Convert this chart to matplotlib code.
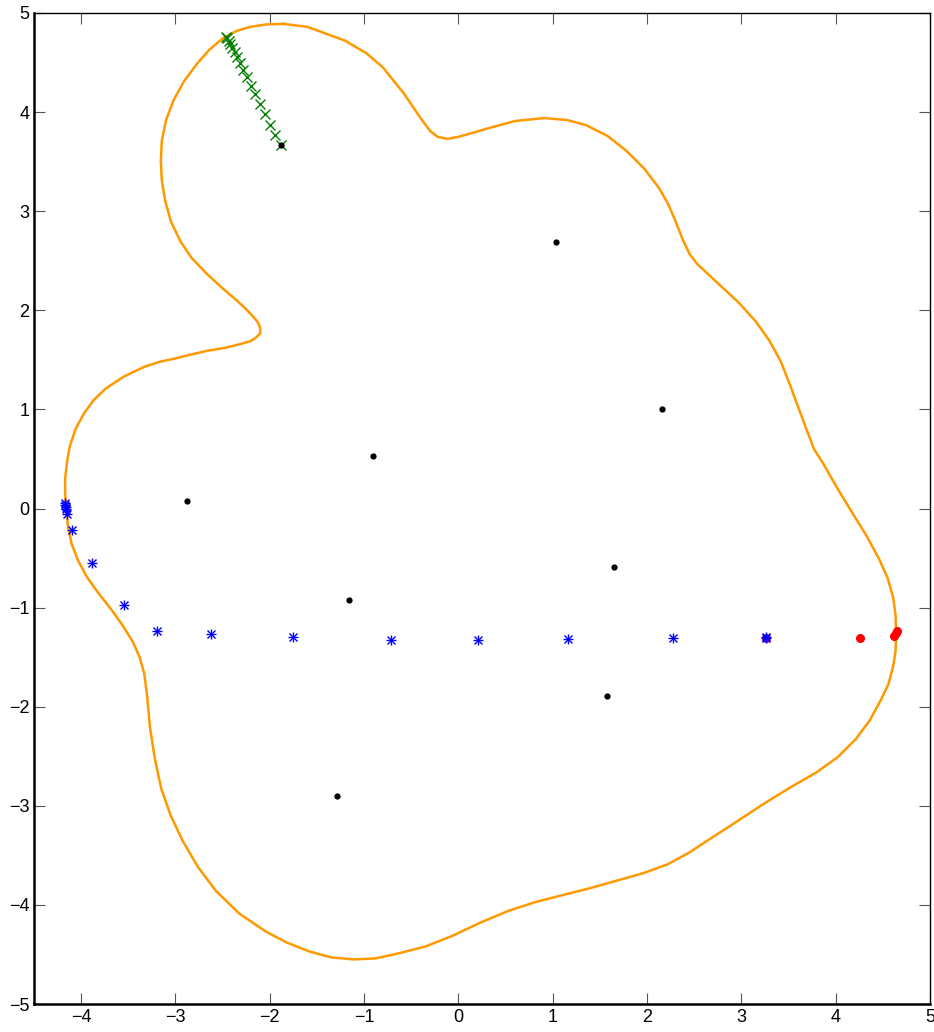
import numpy as np
import matplotlib
matplotlib.use('Agg')
import matplotlib.pyplot as plt

plt.rcParams['font.family'] = ['Liberation Sans', 'DejaVu Sans']

# boundary curve (clockwise from the top of the upper lobe)
curve_x = [-1.855, -1.60, -1.20, -0.97, -0.80, -0.69, -0.58, -0.48, -0.38, -0.30,
           -0.22, -0.12, 0.00, 0.15, 0.29, 0.60, 0.91, 1.15, 1.35, 1.58,
           1.78, 1.97, 2.13, 2.23, 2.31, 2.38, 2.45, 2.53, 2.63, 2.80,
           2.98, 3.15, 3.30, 3.42, 3.51, 3.60, 3.69, 3.77, 3.87, 4.02,
           4.18, 4.33, 4.46, 4.55, 4.61, 4.635, 4.64, 4.635, 4.61, 4.56,
           4.48, 4.36, 4.21, 4.02, 3.80, 3.51, 3.22, 2.95, 2.69, 2.45,
           2.22, 1.96, 1.70, 1.40, 1.11, 0.82, 0.53, 0.23, -0.06, -0.35,
           -0.64, -0.88, -1.11, -1.35, -1.58, -1.82, -2.04, -2.32, -2.57, -2.76,
           -2.92, -3.05, -3.15, -3.22, -3.27, -3.30, -3.33, -3.38, -3.45, -3.56,
           -3.68, -3.82, -3.94, -4.03, -4.10, -4.14, -4.16, -4.17, -4.17, -4.15,
           -4.12, -4.06, -3.97, -3.87, -3.74, -3.55, -3.33, -3.17, -3.02, -2.85,
           -2.67, -2.48, -2.31, -2.20, -2.14, -2.10, -2.10, -2.12, -2.17, -2.25,
           -2.35, -2.51, -2.67, -2.83, -2.95, -3.05, -3.11, -3.145, -3.155, -3.145,
           -3.10, -3.02, -2.91, -2.77, -2.64, -2.49, -2.35, -2.21, -2.03, -1.855]
curve_y = [4.89, 4.86, 4.72, 4.59, 4.45, 4.32, 4.19, 4.05, 3.91, 3.81,
           3.75, 3.73, 3.75, 3.79, 3.83, 3.91, 3.94, 3.92, 3.87, 3.76,
           3.61, 3.43, 3.23, 3.06, 2.88, 2.71, 2.57, 2.47, 2.38, 2.23,
           2.07, 1.89, 1.69, 1.48, 1.26, 1.03, 0.80, 0.60, 0.45, 0.20,
           -0.05, -0.28, -0.51, -0.70, -0.90, -1.08, -1.28, -1.44, -1.59, -1.77,
           -1.93, -2.14, -2.33, -2.51, -2.66, -2.82, -2.99, -3.16, -3.32, -3.47,
           -3.59, -3.68, -3.75, -3.83, -3.90, -3.97, -4.06, -4.18, -4.31, -4.42,
           -4.49, -4.54, -4.55, -4.53, -4.47, -4.38, -4.27, -4.09, -3.86, -3.62,
           -3.36, -3.10, -2.83, -2.52, -2.21, -1.90, -1.67, -1.50, -1.35, -1.18,
           -1.02, -0.85, -0.69, -0.53, -0.36, -0.18, 0.01, 0.16, 0.30, 0.47,
           0.63, 0.80, 0.96, 1.09, 1.21, 1.33, 1.43, 1.48, 1.51, 1.55,
           1.59, 1.62, 1.66, 1.69, 1.73, 1.77, 1.81, 1.87, 1.93, 2.01,
           2.10, 2.23, 2.37, 2.53, 2.70, 2.90, 3.11, 3.31, 3.51, 3.71,
           3.92, 4.12, 4.31, 4.49, 4.63, 4.75, 4.82, 4.86, 4.885, 4.89]

# black points
pts_x = [-1.88, 1.03, 2.16, -0.905, -2.88, 1.65, -1.16, 1.58, -1.29]
pts_y = [3.665, 2.69, 1.00, 0.53, 0.08, -0.59, -0.92, -1.89, -2.90]

# green path (x markers)
green_x = [-1.884, -1.941, -1.997, -2.050, -2.103, -2.153, -2.199, -2.241, -2.281,
           -2.315, -2.344, -2.372, -2.397, -2.419, -2.435, -2.450, -2.461]
green_y = [3.665, 3.769, 3.873, 3.981, 4.082, 4.183, 4.266, 4.351, 4.425,
           4.492, 4.553, 4.603, 4.644, 4.684, 4.717, 4.745, 4.761]

# blue path (asterisks)
blue_x = [-4.17, -4.17, -4.16, -4.16, -4.15, -4.10, -3.88, -3.55, -3.20,
          -2.62, -1.75, -0.72, 0.21, 1.16, 2.27, 3.26, 3.26]
blue_y = [0.06, 0.04, 0.02, -0.01, -0.06, -0.22, -0.55, -0.97, -1.24,
          -1.27, -1.30, -1.33, -1.33, -1.32, -1.31, -1.31, -1.30]

# red path (dots)
red_x = [3.26, 4.26, 4.62, 4.64, 4.65]
red_y = [-1.31, -1.31, -1.29, -1.26, -1.24]

fig = plt.figure(figsize=(9.34, 10.32), dpi=100)
ax = fig.add_axes([34 / 934, 28 / 1032, 896 / 934, 991 / 1032])

ax.plot(curve_x, curve_y, color='#ff9900', lw=1.8, solid_joinstyle='round')
ax.plot(green_x, green_y, 'x', color='green', ms=7, mew=1)
ax.plot(red_x, red_y, 'o', color='red', ms=6.5, mec='none')
ax.plot(blue_x, blue_y, '+', color='blue', ms=7.5, mew=1)
ax.plot(blue_x, blue_y, 'x', color='blue', ms=5.5, mew=1)
ax.plot(pts_x, pts_y, 'o', color='black', ms=4.5, mec='none')

ax.set_xlim(-4.5, 5)
ax.set_ylim(-5, 5)
ax.set_xticks(range(-4, 6))
ax.set_yticks(range(-5, 6))
ax.tick_params(direction='in', length=8, width=0.8, top=True, right=True,
               labelsize=13, color='#555555')
for s in ax.spines.values():
    s.set_linewidth(1.0)
ax.spines['left'].set_linewidth(1.8)
ax.spines['bottom'].set_linewidth(1.8)

fig.savefig('out.png', dpi=100)
